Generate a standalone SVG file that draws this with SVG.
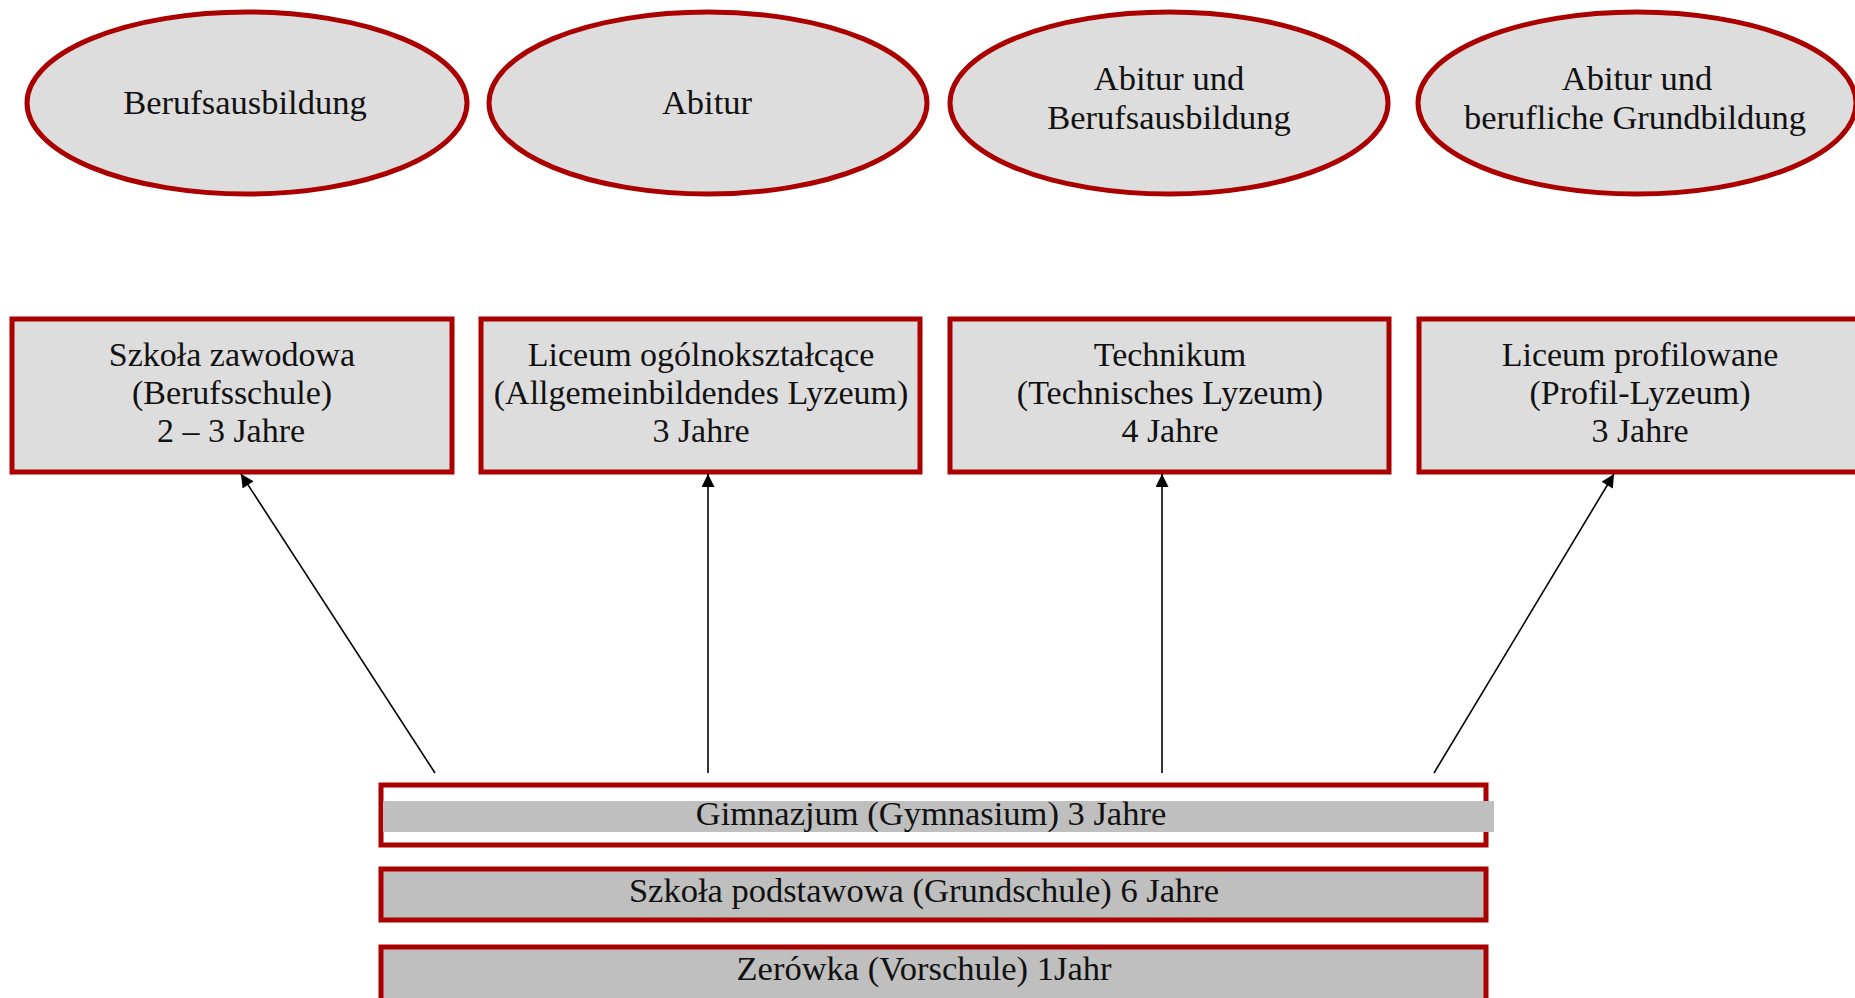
<svg xmlns="http://www.w3.org/2000/svg" width="1855" height="998" viewBox="0 0 1855 998">
<style>
.ell{fill:#DDDDDD;stroke:#AA0000;stroke-width:5}
.box{fill:#DDDDDD;stroke:#AA0000;stroke-width:5}
.bar{fill:#BFBFBF;stroke:#AA0000;stroke-width:5}
.t{font-family:"Liberation Serif","DejaVu Serif",serif;font-size:34px;fill:#111;text-anchor:middle}
.te{font-size:34.5px}
.tb{font-size:34.5px}
.conn{stroke:#000;stroke-width:1.6;fill:none;marker-end:url(#ah)}
</style>
<defs>
<marker id="ah" viewBox="0 0 10 10" refX="10" refY="5" markerWidth="14" markerHeight="13" markerUnits="userSpaceOnUse" orient="auto">
<path d="M0,0 L10,5 L0,10 z" fill="#000"/>
</marker>
</defs>
<rect width="1855" height="998" fill="#fff"/>
<g id="e1"><ellipse class="ell" cx="247" cy="103" rx="220" ry="91"/><text class="t te" x="245" y="114">Berufsausbildung</text></g>
<g id="e2"><ellipse class="ell" cx="708" cy="103" rx="219" ry="91"/><text class="t te" x="707" y="114">Abitur</text></g>
<g id="e3"><ellipse class="ell" cx="1169" cy="103" rx="219" ry="91"/><text class="t te" x="1169" y="90">Abitur und</text><text class="t te" x="1169" y="129">Berufsausbildung</text></g>
<g id="e4"><ellipse class="ell" cx="1637" cy="103" rx="219" ry="91"/><text class="t te" x="1637" y="90">Abitur und</text><text class="t te" x="1635" y="129">berufliche Grundbildung</text></g>
<g id="r1"><rect class="box" x="12" y="319" width="440" height="153"/><text class="t" x="232" y="366">Szkoła zawodowa</text><text class="t" x="232" y="404">(Berufsschule)</text><text class="t" x="231" y="442">2 – 3 Jahre</text></g>
<g id="r2"><rect class="box" x="481" y="319" width="439" height="153"/><text class="t" x="701" y="366">Liceum ogólnokształcące</text><text class="t" x="701" y="404">(Allgemeinbildendes Lyzeum)</text><text class="t" x="701" y="442">3 Jahre</text></g>
<g id="r3"><rect class="box" x="950" y="319" width="439" height="153"/><text class="t" x="1170" y="366">Technikum</text><text class="t" x="1170" y="404">(Technisches Lyzeum)</text><text class="t" x="1170" y="442">4 Jahre</text></g>
<g id="r4"><rect class="box" x="1419" y="319" width="440" height="153"/><text class="t" x="1640" y="366">Liceum profilowane</text><text class="t" x="1640" y="404">(Profil-Lyzeum)</text><text class="t" x="1640" y="442">3 Jahre</text></g>
<g id="gym"><rect x="381" y="785" width="1105" height="60" fill="#fff" stroke="#AA0000" stroke-width="5"/><rect x="383" y="801" width="1111" height="31" fill="#BFBFBF"/><text class="t tb" x="931" y="825">Gimnazjum (Gymnasium) 3 Jahre</text></g>
<g id="grund"><rect class="bar" x="381" y="869" width="1105" height="51"/><text class="t tb" x="924" y="902">Szkoła podstawowa (Grundschule) 6 Jahre</text></g>
<g id="zero"><rect class="bar" x="381" y="947" width="1105" height="60"/><text class="t tb" x="924" y="980">Zerówka (Vorschule) 1Jahr</text></g>
<g id="connectors">
<line class="conn" x1="435" y1="773" x2="241" y2="474"/>
<line class="conn" x1="708" y1="773" x2="708" y2="474"/>
<line class="conn" x1="1162" y1="773" x2="1162" y2="474"/>
<line class="conn" x1="1434" y1="773" x2="1614" y2="474"/>
</g>
</svg>
